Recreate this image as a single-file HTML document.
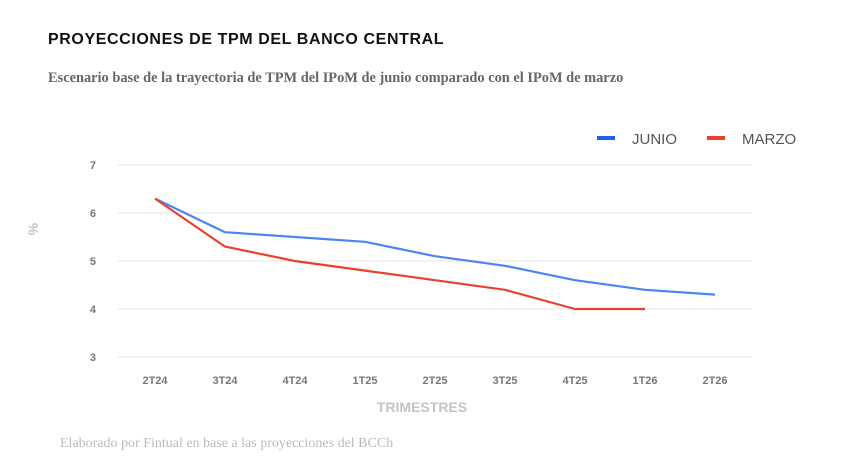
<!DOCTYPE html>
<html><head><meta charset="utf-8"><style>
body{margin:0;width:842px;height:465px;background:#fff;overflow:hidden;position:relative;font-family:"Liberation Sans",sans-serif}
.t{position:absolute;left:48px;top:31px;font-size:16px;font-weight:bold;letter-spacing:0.6px;color:#111}
.s{position:absolute;left:48px;top:70px;font-family:"Liberation Serif",serif;font-size:14.4px;font-weight:bold;color:#666}
.f{position:absolute;left:60px;top:436px;font-family:"Liberation Serif",serif;font-size:14px;color:#bbb}
</style></head><body>
<div class="t">PROYECCIONES DE TPM DEL BANCO CENTRAL</div>
<div class="s">Escenario base de la trayectoria de TPM del IPoM de junio comparado con el IPoM de marzo</div>
<div class="f">Elaborado por Fintual en base a las proyecciones del BCCh</div>
<svg id="c" width="842" height="465" style="position:absolute;left:0;top:0"></svg>
<script>
const categories=["2T24","3T24","4T24","1T25","2T25","3T25","4T25","1T26","2T26"];
const junio=[6.3,5.6,5.5,5.4,5.1,4.9,4.6,4.4,4.3];
const marzo=[6.3,5.3,5.0,4.8,4.6,4.4,4.0,4.0];
const yTicks=[3,4,5,6,7];
const svg=document.getElementById('c');const NS="http://www.w3.org/2000/svg";
function x(i){return 155+i*70;}
function y(v){return 357-(v-3)*48;}
function mk(t,a,txt){const e=document.createElementNS(NS,t);for(const k in a)e.setAttribute(k,a[k]);if(txt!=null)e.textContent=txt;svg.appendChild(e);return e;}
yTicks.forEach(v=>{
 const g=mk('line',{x1:118,x2:752,y1:y(v),y2:y(v),stroke:'#e6e6e6','stroke-width':1});
 
 
 const t=mk('text',{x:96,y:y(v)+4,'font-size':11,'font-weight':'bold',fill:'#777','text-anchor':'end'},v);
 
 
});
categories.forEach((c,i)=>{
 const t=mk('text',{x:x(i),y:384,'font-size':11,'font-weight':'bold',fill:'#777','text-anchor':'middle'},c);
 
 
});
const xt=mk('text',{x:422,y:412,'font-size':14,'font-weight':'bold',fill:'#c4c4c4','text-anchor':'middle'},'TRIMESTRES');


const yt=mk('text',{x:38,y:229,'font-size':14,'font-weight':'bold',fill:'#c4c4c4','text-anchor':'middle',transform:'rotate(-90 38 229)'},'%');


function line(d,col,n){const p=mk('polyline',{points:d.map((v,i)=>x(i)+','+y(v)).join(' '),fill:'none',stroke:col,'stroke-width':2.2,'stroke-linejoin':'round'});
 
 }
line(junio,'#4a86f0','line-junio');
line(marzo,'#e8422f','line-marzo');
[['JUNIO','#1d63e6',597,'legend-junio'],['MARZO','#e8422f',707,'legend-marzo']].forEach(l=>{
 const r=mk('rect',{x:l[2],y:136,width:18,height:4,fill:l[1]});
 
 
 const t=mk('text',{x:l[2]+35,y:144,'font-size':15,fill:'#555'},l[0]);
 
 
});
</script>
</body></html>
